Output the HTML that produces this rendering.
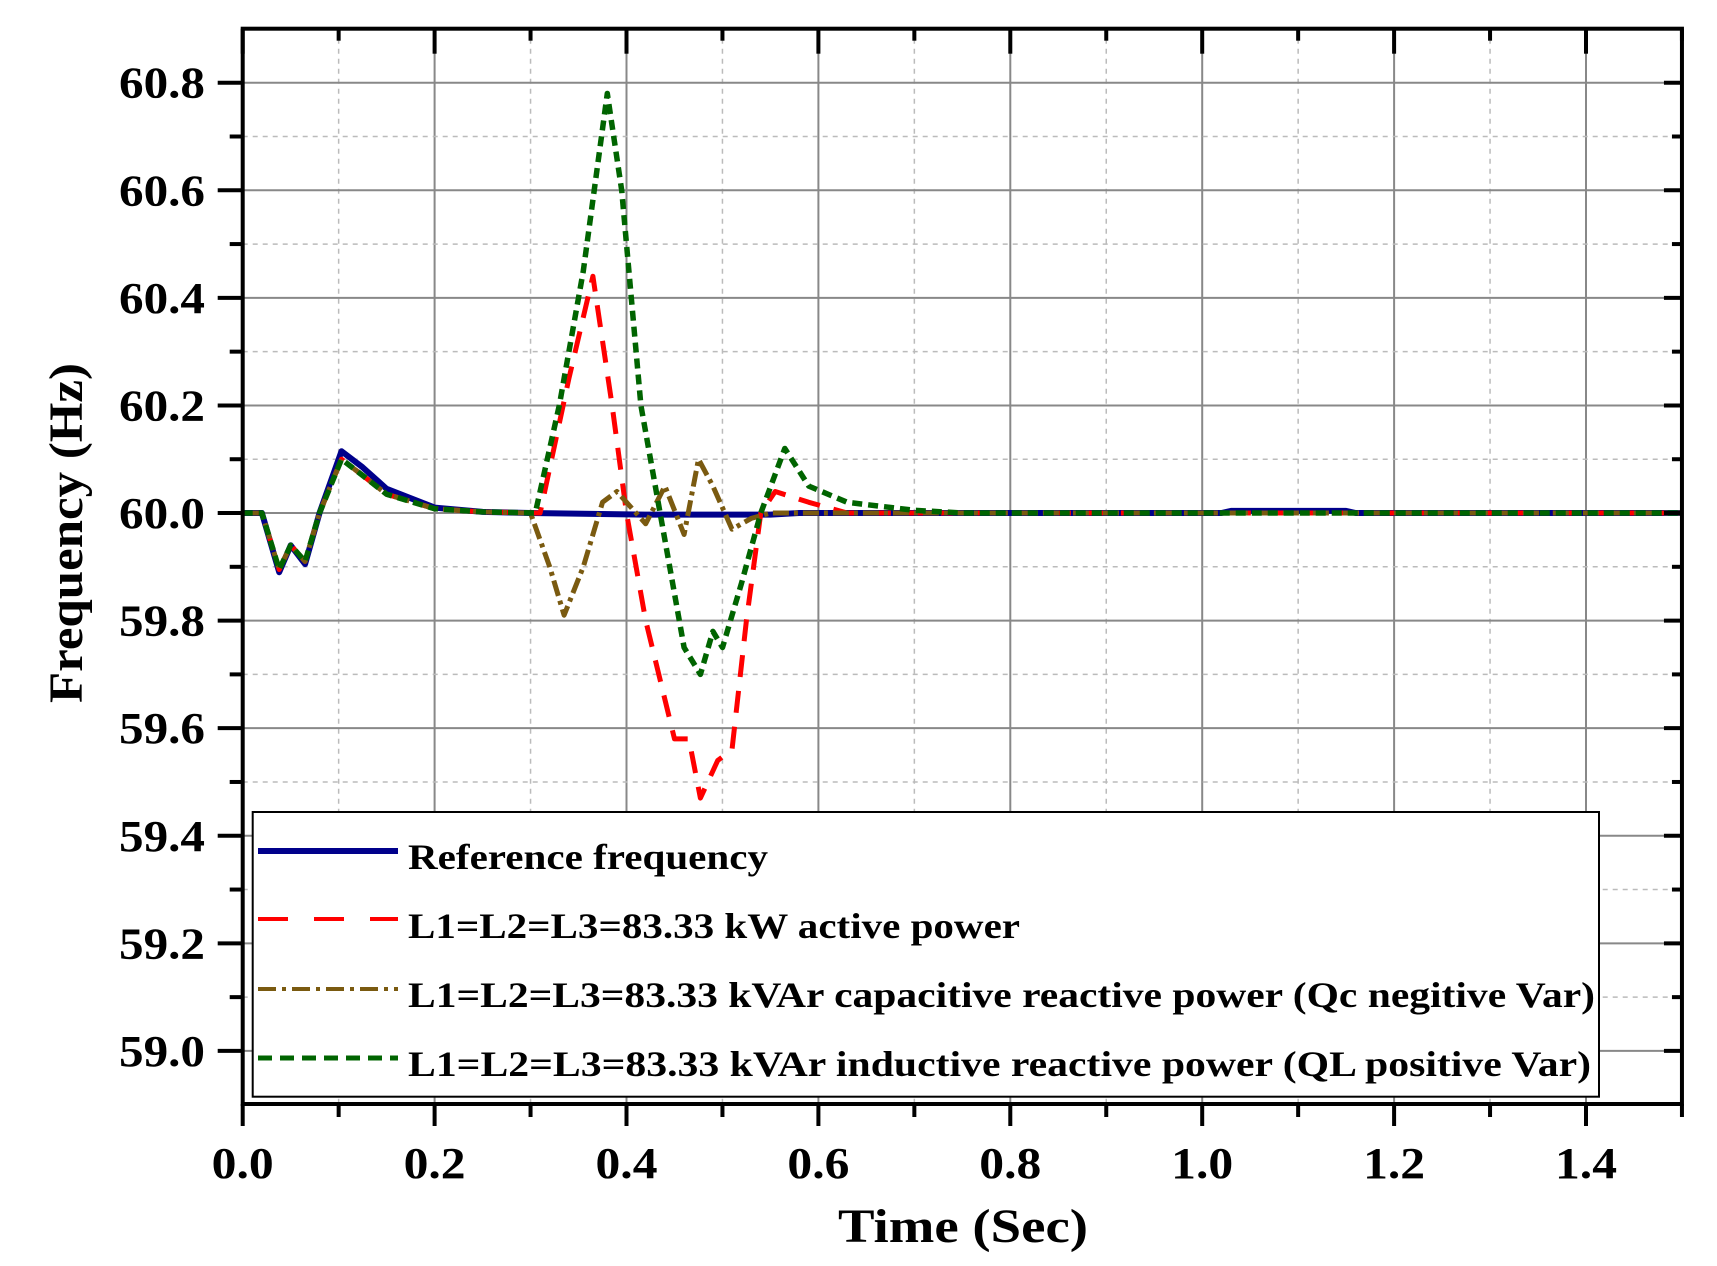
<!DOCTYPE html>
<html><head><meta charset="utf-8"><style>
html,body{margin:0;padding:0;background:#fff;}
svg{display:block;}
text{font-family:"Liberation Serif",serif;font-weight:bold;fill:#000;}
</style></head><body>
<svg id="s" width="1717" height="1266" viewBox="0 0 1717 1266" xmlns="http://www.w3.org/2000/svg">
<rect width="1717" height="1266" fill="#fff"/>
<g id="grid"></g>
<g id="curves" fill="none" stroke-linejoin="round"></g>
<rect x="252.7" y="812" width="1346.3" height="284.7" fill="#fff" stroke="#000" stroke-width="2"/>
<line x1="258" y1="851" x2="398" y2="851" stroke="#00008b" stroke-width="6"/>
<line x1="258" y1="919" x2="398" y2="919" stroke="#ff0000" stroke-width="4" stroke-dasharray="30,26"/>
<line x1="258" y1="989" x2="398" y2="989" stroke="#7a5a10" stroke-width="4" stroke-dasharray="18,6,4,6"/>
<line x1="258" y1="1058" x2="398" y2="1058" stroke="#006400" stroke-width="5" stroke-dasharray="14,8"/>
<text x="408" y="869" font-size="36" textLength="360" lengthAdjust="spacingAndGlyphs">Reference frequency</text>
<text x="408" y="938" font-size="36" textLength="612" lengthAdjust="spacingAndGlyphs">L1=L2=L3=83.33 kW active power</text>
<text x="408" y="1007" font-size="36" textLength="1187" lengthAdjust="spacingAndGlyphs">L1=L2=L3=83.33 kVAr capacitive reactive power (Qc negitive Var)</text>
<text x="408" y="1076" font-size="36" textLength="1183" lengthAdjust="spacingAndGlyphs">L1=L2=L3=83.33 kVAr inductive reactive power (QL positive Var)</text>
<g id="axes"></g>
<text x="963" y="1242" font-size="48" text-anchor="middle" textLength="250" lengthAdjust="spacingAndGlyphs">Time (Sec)</text>
<text transform="translate(82,533) rotate(-90)" font-size="48" text-anchor="middle" textLength="340" lengthAdjust="spacingAndGlyphs">Frequency (Hz)</text>
</svg>
<script>
var NS="http://www.w3.org/2000/svg";
function X(t){return 242.7+t*959.5;}
function Y(f){return 82.7+(60.8-f)*537.9;}
function el(p,tag,a){var e=document.createElementNS(NS,tag);for(var k in a)e.setAttribute(k,a[k]);p.appendChild(e);return e;}
var g=document.getElementById('grid'),ax=document.getElementById('axes'),cv=document.getElementById('curves');
var L=X(0),R=X(1.5),T=28.7,B=1104;
for(var i=1;i<15;i++){var x=X(i*0.1);
 if(i%2==0) el(g,'line',{x1:x,y1:T,x2:x,y2:B,stroke:'#888',"stroke-width":2});
 else el(g,'line',{x1:x,y1:T,x2:x,y2:B,stroke:'#bbb',"stroke-width":1.5,"stroke-dasharray":"5,5"});}
for(var i=0;i<=19;i++){var f=58.9+i*0.1;var y=Y(f);if(y<T+1||y>B-1)continue;
 var maj=Math.round(f*10)%2==0;
 if(maj) el(g,'line',{x1:L,y1:y,x2:R,y2:y,stroke:'#888',"stroke-width":2});
 else el(g,'line',{x1:L,y1:y,x2:R,y2:y,stroke:'#bbb',"stroke-width":1.5,"stroke-dasharray":"5,5"});
 el(ax,'line',{x1:L-(maj?25:13),y1:y,x2:L,y2:y,stroke:'#000',"stroke-width":4});
 el(ax,'line',{x1:R-(maj?18:10),y1:y,x2:R,y2:y,stroke:'#000',"stroke-width":4});
 if(maj){var t=el(ax,'text',{x:205,y:y+15,"font-size":44,"text-anchor":"end",textLength:86,lengthAdjust:"spacingAndGlyphs"});t.textContent=f.toFixed(1);}
}
for(var i=0;i<=15;i++){var x=X(i*0.1);var maj=i%2==0;
 el(ax,'line',{x1:x,y1:B,x2:x,y2:B+(maj?22:13),stroke:'#000',"stroke-width":4});
 el(ax,'line',{x1:x,y1:T,x2:x,y2:T+(maj?25:12),stroke:'#000',"stroke-width":4});
 if(maj){var t=el(ax,'text',{x:x,y:1178,"font-size":44,"text-anchor":"middle",textLength:62,lengthAdjust:"spacingAndGlyphs"});t.textContent=(i/10).toFixed(1);}
}
el(ax,'rect',{x:L,y:T,width:R-L,height:B-T,fill:'none',stroke:'#000',"stroke-width":4});
var early=[[0,60],[0.02,60],[0.038,59.895],[0.05,59.94],[0.065,59.91],[0.08,60.0],[0.103,60.1],[0.125,60.07],[0.15,60.035],[0.2,60.008],[0.25,60.002]];
var ref=[[0,60],[0.02,60],[0.038,59.89],[0.05,59.94],[0.065,59.905],[0.08,60.0],[0.103,60.115],[0.125,60.085],[0.15,60.045],[0.2,60.01],[0.25,60.002],[0.3,60],[0.42,59.997],[0.55,59.997],[0.58,60],[1.02,60],[1.03,60.004],[1.15,60.004],[1.16,60],[1.5,60]];
var red=early.concat([[0.31,60],[0.34,60.25],[0.365,60.44],[0.385,60.2],[0.4,60],[0.42,59.8],[0.45,59.58],[0.465,59.58],[0.477,59.47],[0.495,59.54],[0.51,59.56],[0.525,59.8],[0.54,60],[0.555,60.04],[0.59,60.02],[0.63,60],[1.5,60]]);
var brn=early.concat([[0.3,60],[0.32,59.9],[0.335,59.81],[0.355,59.9],[0.375,60.02],[0.39,60.04],[0.42,59.98],[0.44,60.05],[0.46,59.96],[0.475,60.1],[0.49,60.05],[0.51,59.97],[0.53,59.99],[0.55,60],[1.5,60]]);
var grn=early.concat([[0.305,60],[0.33,60.2],[0.355,60.45],[0.38,60.78],[0.395,60.6],[0.415,60.2],[0.44,59.95],[0.46,59.75],[0.477,59.7],[0.49,59.78],[0.5,59.75],[0.52,59.87],[0.54,60.0],[0.565,60.12],[0.59,60.05],[0.63,60.02],[0.7,60.005],[0.75,60],[1.5,60]]);
function pl(d,a){var s=d.map(function(p){return X(p[0]).toFixed(1)+','+Y(p[1]).toFixed(1);}).join(' ');a.points=s;el(cv,'polyline',a);}
pl(ref,{stroke:'#00008b',"stroke-width":6});
pl(red,{stroke:'#ff0000',"stroke-width":5,"stroke-dasharray":"22,14"});
pl(brn,{stroke:'#7a5a10',"stroke-width":5,"stroke-dasharray":"16,5,4,5"});
pl(grn,{stroke:'#006400',"stroke-width":5.5,"stroke-dasharray":"10,6"});
</script>
</body></html>
